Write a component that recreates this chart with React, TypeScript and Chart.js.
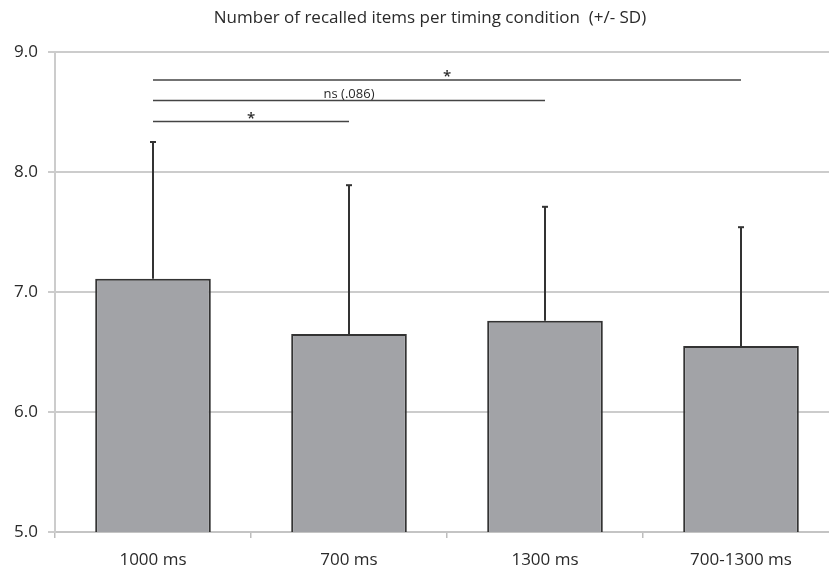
import React, { useEffect, useRef } from "react";
import { Chart, registerables } from "chart.js";

Chart.register(...registerables);

const categories = ["1000 ms", "700 ms", "1300 ms", "700-1300 ms"];
const means = [7.11, 6.65, 6.76, 6.55];
const sds = [1.14, 1.24, 0.95, 0.99];
const yTicks = [5, 6, 7, 8, 9];
const bracketFrom = [0, 0, 0];
const bracketTo = [1, 2, 3];
const bracketLevel = [8.42, 8.595, 8.767];
const bracketLabel = ["*", "ns (.086)", "*"];
const titleText = "Number of recalled items per timing condition  (+/- SD)";

const FONT = "'Open Sans', 'DejaVu Sans', sans-serif";

const overlayPlugin = {
  id: "overlay",
  afterDatasetsDraw(chart: any) {
    const { ctx } = chart;
    const x = chart.scales.x;
    const y = chart.scales.y;
    ctx.save();
    // error bars (upper only)
    ctx.strokeStyle = "#333333";
    ctx.lineWidth = 2;
    means.forEach((m, i) => {
      const cx = x.getPixelForValue(i);
      const y0 = y.getPixelForValue(m);
      const y1 = y.getPixelForValue(m + sds[i]);
      ctx.beginPath();
      ctx.moveTo(cx, y0);
      ctx.lineTo(cx, y1);
      ctx.stroke();
      ctx.beginPath();
      ctx.moveTo(cx - 3, y1);
      ctx.lineTo(cx + 3, y1);
      ctx.stroke();
    });
    // significance brackets
    ctx.lineWidth = 1.5;
    ctx.strokeStyle = "#444444";
    ctx.fillStyle = "#2a2a2a";
    ctx.textAlign = "center";
    ctx.textBaseline = "alphabetic";
    bracketLevel.forEach((lv, i) => {
      const x0 = x.getPixelForValue(bracketFrom[i]);
      const x1 = x.getPixelForValue(bracketTo[i]);
      const py = y.getPixelForValue(lv);
      ctx.beginPath();
      ctx.moveTo(x0, py);
      ctx.lineTo(x1, py);
      ctx.stroke();
      const lab = bracketLabel[i];
      if (lab === "*") {
        ctx.font = `600 15px ${FONT}`;
        ctx.fillText(lab, (x0 + x1) / 2, py + 1);
      } else {
        ctx.font = `13px ${FONT}`;
        ctx.fillText(lab, (x0 + x1) / 2, py - 3);
      }
    });
    // title
    ctx.font = `17px ${FONT}`;
    ctx.fillStyle = "#2a2a2a";
    ctx.textAlign = "center";
    ctx.textBaseline = "middle";
    ctx.fillText(titleText, 430, 18);
    ctx.restore();
  },
};

export default function App() {
  const ref = useRef<HTMLCanvasElement | null>(null);
  useEffect(() => {
    document.body.style.margin = "0";
    document.body.style.overflow = "hidden";
    const chart = new Chart(ref.current!, {
      type: "bar",
      data: {
        labels: categories,
        datasets: [
          {
            data: means,
            backgroundColor: "#a2a3a7",
            borderColor: "#333333",
            borderWidth: 2,
            borderSkipped: false,
            barPercentage: 0.59,
            categoryPercentage: 1,
          },
        ],
      },
      options: {
        responsive: false,
        animation: false,
        layout: { padding: { top: 52, right: 1, left: 0, bottom: 0 } },
        plugins: {
          legend: { display: false },
          tooltip: { enabled: false },
          title: { display: false },
        },
        scales: {
          x: {
            offset: true,
            grid: {
              offset: true,
              drawOnChartArea: false,
              drawTicks: true,
              tickLength: 6,
              color: "#bdbdbd",
              lineWidth: 1.5,
            },
            border: { color: "#c4c4c4", width: 2 },
            ticks: {
              color: "#2a2a2a",
              font: { family: FONT, size: 17 },
              padding: 12,
            },
            afterFit(scale: any) {
              scale.height = 36;
            },
          },
          y: {
            min: 5,
            max: 9,
            afterBuildTicks(scale: any) {
              scale.ticks = yTicks.map((v) => ({ value: v }));
            },
            grid: {
              color: "#cccccc",
              lineWidth: 2,
              tickLength: 7,
            },
            border: { color: "#cccccc", width: 2 },
            ticks: {
              color: "#2a2a2a",
              font: { family: FONT, size: 17 },
              padding: 10,
              callback: (v: any) => Number(v).toFixed(1),
            },
            afterFit(scale: any) {
              scale.width = 55;
            },
          },
        },
      },
      plugins: [overlayPlugin],
    });
    return () => chart.destroy();
  }, []);
  return (
    <div
      style={{
        position: "fixed",
        left: 0,
        top: 0,
        width: 829,
        height: 568,
        overflow: "hidden",
        background: "#ffffff",
      }}
    >
      <canvas ref={ref} width={840} height={568} style={{ display: "block" }} />
    </div>
  );
}
